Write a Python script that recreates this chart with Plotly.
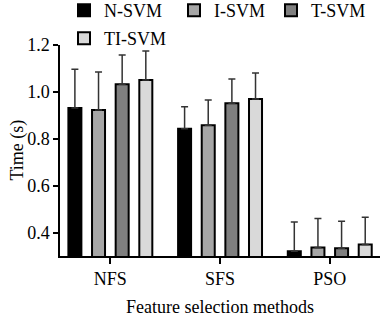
import plotly.graph_objects as go

categories = ["NFS", "SFS", "PSO"]
series_names = ["N-SVM", "I-SVM", "T-SVM", "TI-SVM"]
n_svm = [0.931, 0.843, 0.320]
i_svm = [0.923, 0.858, 0.336]
t_svm = [1.033, 0.952, 0.333]
ti_svm = [1.051, 0.970, 0.349]
n_err = [0.166, 0.094, 0.125]
i_err = [0.162, 0.107, 0.124]
t_err = [0.124, 0.103, 0.115]
ti_err = [0.123, 0.111, 0.116]

values = [n_svm, i_svm, t_svm, ti_svm]
errors = [n_err, i_err, t_err, ti_err]
colors = ["#000000", "#a6a6a6", "#7f7f7f", "#d9d9d9"]
legend_ids = ["legend", "legend2", "legend3", "legend4"]
# legend box placement (container px): left x, top y
legend_pos = [(64, -8), (174, -8), (271, -8), (64, 20)]

W, H = 383, 319
ML, MR, MT, MB = 60, 3, 45, 63
PW, PH = W - ML - MR, H - MT - MB
FONT = "Liberation Serif, Times New Roman, serif"

fig = go.Figure()
for name, v, e, c, lg in zip(series_names, values, errors, colors, legend_ids):
    fig.add_trace(go.Bar(
        x=categories, y=v, name=name, legend=lg,
        marker=dict(color=c, line=dict(color="#000000", width=2)),
        error_y=dict(type="data", array=e, symmetric=False, arrayminus=[0] * len(e),
                     color="#333333", thickness=1.5, width=3.5),
    ))

legend_layout = {}
for lg, (lx, ly) in zip(legend_ids, legend_pos):
    legend_layout[lg] = dict(
        orientation="h", xref="container", yref="paper",
        x=lx / W, xanchor="left", y=1 + (MT - ly) / PH, yanchor="top",
        bgcolor="rgba(0,0,0,0)", font=dict(size=18),
    )

fig.update_layout(
    width=W, height=H,
    margin=dict(l=ML, r=MR, t=MT, b=MB, autoexpand=False),
    paper_bgcolor="white", plot_bgcolor="white",
    font=dict(family=FONT, size=18, color="#000000"),
    barmode="group", bargap=0.138, bargroupgap=0.45,
    showlegend=True,
    **legend_layout,
    annotations=[
        dict(text="Time (s)", textangle=-90, xref="paper", yref="paper",
             x=(17 - ML) / PW, y=0.5, xanchor="center", yanchor="middle",
             showarrow=False, font=dict(size=18)),
        dict(text="Feature selection methods", xref="paper", yref="paper",
             x=0.5, y=-(307 - (MT + PH)) / PH, xanchor="center", yanchor="middle",
             showarrow=False, font=dict(size=18)),
    ],
)
fig.update_xaxes(
    range=[-0.459, 2.458], showline=True, linecolor="#000000", linewidth=1.5,
    ticks="outside", ticklen=6, tickwidth=1.5, tickcolor="#000000",
    showgrid=False, zeroline=False, automargin=False,
    tickfont=dict(size=18),
)
fig.update_yaxes(
    range=[0.3, 1.2], tickvals=[0.4, 0.6, 0.8, 1.0, 1.2], tickformat=".1f",
    showline=True, linecolor="#000000", linewidth=1.5,
    ticks="outside", ticklen=5, tickwidth=1.5, tickcolor="#000000",
    showgrid=False, zeroline=False, automargin=False,
    tickfont=dict(size=18),
)
fig.write_html("out.html", config={"displayModeBar": False},
               post_script="document.body.style.margin='0';")
